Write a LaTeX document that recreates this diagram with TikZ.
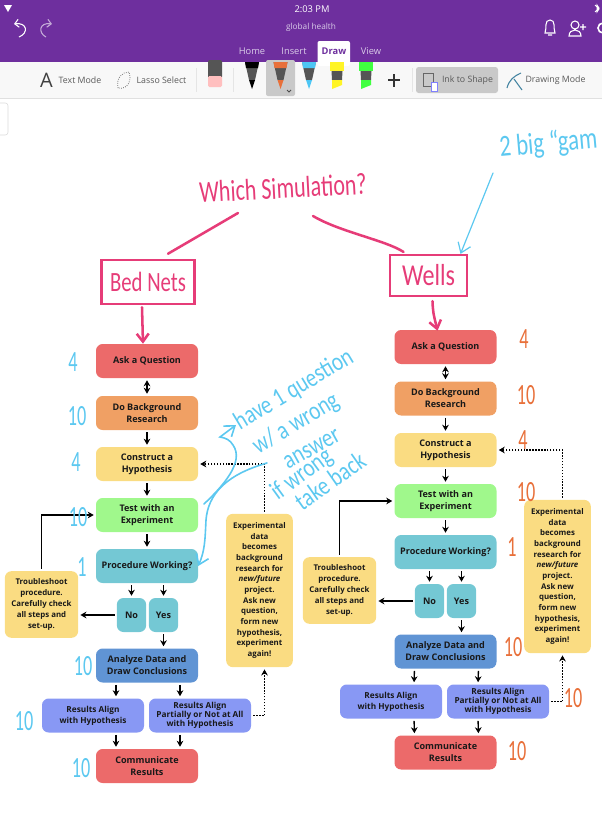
\documentclass[tikz,border=0pt]{standalone}
\usepackage{fontspec}
\setmainfont{Open Sans}
\newfontfamily\handfont{Carlito}
\usetikzlibrary{arrows,arrows.meta,calc}
\definecolor{barpurple}{HTML}{6E2F9E}
\definecolor{tabtext}{HTML}{D9CBE8}
\definecolor{toolbg}{HTML}{F8F8F8}
\definecolor{toolgray}{HTML}{C9C9C9}
\definecolor{penbody}{HTML}{555555}
\definecolor{redbox}{HTML}{EC6A6A}
\definecolor{orangebox}{HTML}{F0A064}
\definecolor{yellowbox}{HTML}{FADC82}
\definecolor{greenbox}{HTML}{A0F88C}
\definecolor{tealbox}{HTML}{74C8D4}
\definecolor{bluebox}{HTML}{6094D4}
\definecolor{violetbox}{HTML}{8898F4}
\definecolor{inkpink}{HTML}{E63C78}
\definecolor{inkblue}{HTML}{5CC8F0}
\definecolor{inkorange}{HTML}{E8703A}

\begin{document}
\begin{tikzpicture}[
    x=0.75pt, y=-0.75pt,
    stepbox/.style={rectangle, rounded corners=5pt, minimum width=76.5pt, minimum height=25.5pt, inner sep=0pt, align=center, text=black!90, font=\fontsize{6.8}{9}\selectfont\bfseries},
    choicebox/.style={stepbox, fill=tealbox, minimum width=22pt},
    sidebox/.style={stepbox, fill=yellowbox, minimum width=55pt, minimum height=50pt, font=\fontsize{5.9}{8.1}\selectfont\bfseries},
    databox/.style={stepbox, fill=yellowbox, minimum width=50pt, minimum height=115pt, font=\fontsize{5.9}{8}\selectfont\bfseries},
    resultbox/.style={stepbox, fill=violetbox, font=\fontsize{6.2}{8.3}\selectfont\bfseries},
    arrow/.style={->, line width=1pt, >={Stealth[length=4.5pt,width=5pt]}, shorten >=1.5pt, shorten <=1.5pt},
    dotarrow/.style={arrow, line width=1.2pt, dash pattern=on 1.1pt off 1.1pt},
    pinkline/.style={draw=inkpink, line width=1.9pt, line cap=round},
    pinkarrow/.style={pinkline, -{Straight Barb[length=6pt,width=9pt]}},
    bluearrow/.style={draw=inkblue, line width=1.2pt, line cap=round, -{Straight Barb[length=7pt,width=10pt]}},
    pinkhand/.style={text=inkpink, font=\handfont\fontsize{19}{19}\selectfont},
    bluehand/.style={text=inkblue, font=\handfont\fontsize{17}{17}\selectfont},
    orangehand/.style={text=inkorange, font=\handfont\fontsize{22}{22}\selectfont},
    simbox/.style={rectangle, draw=inkpink, line width=1.9pt, inner sep=0pt, minimum height=33pt, text=inkpink, font=\handfont\fontsize{19}{19}\selectfont},
    uitext/.style={text=black!65, font=\fontsize{6.6}{8}\selectfont},
    bartext/.style={text=tabtext, font=\fontsize{7}{8}\selectfont}
]
    \useasboundingbox (0,0) rectangle (602,814);
    \clip (0,0) rectangle (602,814);

    % App bar
    \fill[barpurple] (0,0) rectangle (602,62);
    \fill[toolbg] (0,62) rectangle (602,98);
    \draw[black!12] (0,98.5) -- (602,98.5);
    \draw[black!15, rounded corners=2pt] (-4,103) rectangle (8,135);
    \fill[white, rounded corners=1.5pt] (317.5,41) rectangle (350,66);
    \node[bartext, text=white] (clock) at (312,9) {2:03 PM};
    \node[bartext, font=\fontsize{6.2}{8}\selectfont] (notebook) at (311,27) {global health};
    \node[bartext] (hometab) at (252,51) {Home};
    \node[bartext] (inserttab) at (294,51) {Insert};
    \node[bartext, text=barpurple, font=\fontsize{7}{8}\selectfont\bfseries] (drawtab) at (334,51) {Draw};
    \node[bartext] (viewtab) at (371,51) {View};

    % Bar icons
    \draw[white, line width=.8pt, -{Straight Barb[length=3pt,width=6pt]}] (19,37) .. controls (29,33) and (27,22) .. (14,24);
    \draw[white!60!barpurple, line width=.8pt, -{Straight Barb[length=3pt,width=6pt]}] (46,37) .. controls (38,33) and (39,22) .. (52,24);
    \draw[white, line width=.8pt] (545,33) .. controls (547,28) and (544,20) .. (550,20) .. controls (556,20) and (553,28) .. (555,33) -- cycle (548,35) -- (552,35);
    \draw[white, line width=.8pt] (575,25) circle (4) (569,36) .. controls (569,28) and (581,28) .. (581,36) -- cycle (580,27) -- (586,27) (583,24) -- (583,30);
    \draw[white, line width=1.2pt] (603,28) circle (5);
    \fill[white] (4,5) -- (12,5) -- (8,12) -- cycle;
    \draw[white, line width=.7pt] (595,5) -- (599,9) -- (597,12) -- (597,5) -- (599,8) -- (595,12);

    % Tool bar
    \node[uitext, font=\fontsize{15}{16}\selectfont, text=black!75] (texticon) at (46.5,80) {A};
    \node[uitext] (textmode) at (80,80.5) {Text Mode};
    \draw[black!55, densely dotted, line width=.6pt] (118,88) .. controls (116,78) and (122,72) .. (129,72) .. controls (132,80) and (128,90) .. (118,88);
    \node[uitext] (lasso) at (161.5,80.5) {Lasso Select};
    \draw[black!10] (196,68) -- (196,92) (233,68) -- (233,92) (412,68) -- (412,92);
    \fill[penbody, rounded corners=1pt] (208,60) rectangle (222,78);
    \fill[pink, rounded corners=1pt] (208,76) rectangle (222,87);
    \fill[toolgray, rounded corners=1.5pt] (266,60) rectangle (295,96);
    \fill[toolgray, rounded corners=2pt] (416,67) rectangle (498,93);
    \draw[black!70, line width=.7pt] (287,90) -- (289,92) -- (291,90);
    \foreach \x/\c in {252/black, 280.5/inkorange, 309/cyan!70!white} {
        \fill[penbody] (\x-7,62) -- (\x+7,62) -- (\x+3,80) -- (\x-3,80) -- cycle;
        \fill[\c] (\x-7,62) -- (\x+7,62) -- (\x+6,68) -- (\x-6,68) -- cycle;
        \fill[\c] (\x-3,80) -- (\x+3,80) -- (\x,89) -- cycle;
    }
    \foreach \x/\c in {337/yellow!85!white, 366/green!75!white} {
        \fill[penbody] (\x-6,62) -- (\x+6,62) -- (\x+5,80) -- (\x-5,80) -- cycle;
        \fill[\c] (\x-7,62) rectangle (\x+7,71);
        \fill[\c] (\x-5,80) -- (\x+5,80) -- (\x+5,85) -- (\x-5,89) -- cycle;
    }
    \draw[black!80, line width=1.1pt] (388,80) -- (400,80) (394,74) -- (394,87);
    \draw[black!60, line width=.6pt] (423,73) rectangle (433,86);
    \draw[blue!50!white, line width=.7pt, fill=white] (431,82) rectangle (437,91);
    \node[uitext] (inkshape) at (467.5,80.5) {Ink to Shape};
    \draw[cyan!60!black, line width=.8pt] (507,88) .. controls (509,80) and (514,76) .. (521,73) (514,79) -- (522,90);
    \node[uitext] (drawmode) at (555.5,80.5) {Drawing Mode};

    % Bed Nets flow
    \node[stepbox, fill=redbox] (lask) at (147,361) {Ask a Question};
    \node[stepbox, fill=orangebox] (ldo) at (147,413) {Do Background\\Research};
    \node[stepbox, fill=yellowbox] (lguess) at (147,464) {Construct a\\Hypothesis};
    \node[stepbox, fill=greenbox] (ltest) at (147,515) {Test with an\\Experiment};
    \node[stepbox, fill=tealbox] (lproc) at (147,566) {Procedure Working?};
    \node[choicebox] (lno) at (131.5,615) {No};
    \node[choicebox] (lyes) at (163.5,615) {Yes};
    \node[stepbox, fill=bluebox] (lanalyze) at (147,665.5) {Analyze Data and\\Draw Conclusions};
    \node[resultbox] (lalign) at (93,715.5) {Results Align\\with Hypothesis};
    \node[resultbox, font=\fontsize{6.2}{7}\selectfont\bfseries] (lpartial) at (200,715.5) {Results Align\\Partially or Not at All\\with Hypothesis};
    \node[stepbox, fill=redbox] (lcomm) at (147,766) {Communicate\\Results};
    \node[sidebox] (ltrouble) at (41.5,604.5) {Troubleshoot\\procedure.\\Carefully check\\all steps and\\set-up.};
    \node[databox] (ldata) at (259.5,590.5) {Experimental\\data\\becomes\\background\\research for\\\textit{new/future}\\project.\\Ask new\\question,\\form new\\hypothesis,\\experiment\\again!};

    \draw[arrow, <->] (lask) -- (ldo);
    \draw[arrow] (ldo) -- (lguess);
    \draw[arrow] (lguess) -- (ltest);
    \draw[arrow] (ltest) -- (lproc);
    \draw[arrow] (lproc.south -| lno.north) -- (lno.north);
    \draw[arrow] (lproc.south -| lyes.north) -- (lyes.north);
    \draw[arrow] (lyes) -- (lyes |- lanalyze.north);
    \draw[arrow] (lno) -- (ltrouble.east |- lno);
    \draw[arrow] (ltrouble.north) |- (ltest.west);
    \draw[arrow] ($(lanalyze.south)+(-31,0)$) -- ($(lalign.north)+(23,0)$);
    \draw[arrow] ($(lanalyze.south)+(33,0)$) -- ($(lpartial.north)+(-20,0)$);
    \draw[arrow] ($(lalign.south)+(23,0)$) -- ($(lcomm.north)+(-31,0)$);
    \draw[arrow] ($(lpartial.south)+(-20,0)$) -- ($(lcomm.north)+(33,0)$);
    \draw[dotarrow] (lpartial.east) -| ($(ldata.south)+(5,0)$);
    \draw[dotarrow] ($(ldata.north)+(5,0)$) |- (lguess.east);

    % Wells flow
    \node[stepbox, fill=redbox] (rask) at (445.5,347) {Ask a Question};
    \node[stepbox, fill=orangebox] (rdo) at (445.5,398.5) {Do Background\\Research};
    \node[stepbox, fill=yellowbox] (rguess) at (445.5,450) {Construct a\\Hypothesis};
    \node[stepbox, fill=greenbox] (rtest) at (445.5,501) {Test with an\\Experiment};
    \node[stepbox, fill=tealbox] (rproc) at (445.5,552) {Procedure Working?};
    \node[choicebox] (rno) at (429.5,601) {No};
    \node[choicebox] (ryes) at (461.5,601) {Yes};
    \node[stepbox, fill=bluebox] (ranalyze) at (445.5,651.5) {Analyze Data and\\Draw Conclusions};
    \node[resultbox] (ralign) at (391,701.5) {Results Align\\with Hypothesis};
    \node[resultbox, font=\fontsize{6.2}{7}\selectfont\bfseries] (rpartial) at (498,701.5) {Results Align\\Partially or Not at All\\with Hypothesis};
    \node[stepbox, fill=redbox] (rcomm) at (445.5,752.5) {Communicate\\Results};
    \node[sidebox] (rtrouble) at (339.5,590.5) {Troubleshoot\\procedure.\\Carefully check\\all steps and\\set-up.};
    \node[databox] (rdata) at (557.5,576.5) {Experimental\\data\\becomes\\background\\research for\\\textit{new/future}\\project.\\Ask new\\question,\\form new\\hypothesis,\\experiment\\again!};

    \draw[arrow, <->] (rask) -- (rdo);
    \draw[arrow] (rdo) -- (rguess);
    \draw[arrow] (rguess) -- (rtest);
    \draw[arrow] (rtest) -- (rproc);
    \draw[arrow] (rproc.south -| rno.north) -- (rno.north);
    \draw[arrow] (rproc.south -| ryes.north) -- (ryes.north);
    \draw[arrow] (ryes) -- (ryes |- ranalyze.north);
    \draw[arrow] (rno) -- (rtrouble.east |- rno);
    \draw[arrow] (rtrouble.north) |- (rtest.west);
    \draw[arrow] ($(ranalyze.south)+(-31,0)$) -- ($(ralign.north)+(23,0)$);
    \draw[arrow] ($(ranalyze.south)+(33,0)$) -- ($(rpartial.north)+(-20,0)$);
    \draw[arrow] ($(ralign.south)+(23,0)$) -- ($(rcomm.north)+(-31,0)$);
    \draw[arrow] ($(rpartial.south)+(-20,0)$) -- ($(rcomm.north)+(33,0)$);
    \draw[dotarrow] (rpartial.east) -| ($(rdata.south)+(5,0)$);
    \draw[dotarrow] ($(rdata.north)+(5,0)$) |- (rguess.east);

    % Pink ink
    \node[pinkhand, rotate=3] (which) at (283,188) {\scalebox{.87}[1.2]{Which Simulation?}};
    \node[simbox, minimum width=70pt] (bednets) at (148,282) {\scalebox{.82}[1.1]{Bed Nets}};
    \node[simbox, minimum width=57.5pt, minimum height=30.5pt] (wells) at (428.5,275.5) {\scalebox{.95}[1.2]{Wells}};
    \coordinate (whichleft) at (238,213);
    \coordinate (whichright) at (313,216);
    \draw[pinkline] (whichleft) -- ($(bednets.north)+(20,-5)$);
    \draw[pinkline] (whichright) .. controls (340,232) and (385,240) .. ($(wells.north)+(-25,-2)$);
    \draw[pinkarrow] ($(bednets.south)+(-6,2)$) -- ($(lask.north)+(-4,0)$);
    \draw[pinkarrow] ($(wells.south)+(4,4)$) .. controls (433,312) .. ($(rask.north)+(-8,1)$);

    % Blue ink
    \node[bluehand, rotate=5, anchor=west, font=\handfont\fontsize{19}{19}\selectfont] (games) at (495,149) {\scalebox{.9}[1.2]{2 big “gam}};
    \coordinate (gamesfoot) at (493,173);
    \draw[bluearrow, line width=.9pt] (gamesfoot) -- ($(wells.north)+(32,0)$);
    \node[bluehand, rotate=31] (noteone) at (294,390) {\scalebox{.92}[1.15]{have 1 question}};
    \node[bluehand, rotate=31] (notetwo) at (296,424) {\scalebox{.92}[1.15]{w/ a wrong}};
    \node[bluehand, rotate=29] (notethree) at (312,449) {\scalebox{.92}[1.15]{answer}};
    \node[bluehand, rotate=36] (notefour) at (302,475) {\scalebox{.92}[1.15]{if wrong}};
    \node[bluehand, rotate=35] (notefive) at (330,481) {\scalebox{.92}[1.15]{take back}};
    \coordinate (curlstart) at (204,504);
    \coordinate (curlend) at (236,425);
    \coordinate (backstart) at (267,463);
    \draw[bluearrow] (curlstart) .. controls (222,487) and (245,462) .. (233,445) .. controls (230,440) and (226,438) .. (220,437) -- (curlend);
    \draw[bluearrow] (backstart) .. controls (225,475) and (208,495) .. (206,520) .. controls (205,540) and (205,550) .. (lproc.east);

    % Blue scores
    \foreach \x/\y/\t [count=\i] in {73/362/4, 77/416/10, 76/462/4, 78/517/10, 82/567/1, 83/666/10, 24/721/10, 81/768/10} {
        \node[bluehand, font=\handfont\fontsize{22}{22}\selectfont] (lscore\i) at (\x,\y) {\scalebox{.62}[1]{\t}};
    }
    % Orange scores
    \foreach \x/\y/\t [count=\i] in {524/339/4, 526/395/10, 523/440/4, 526/492/10, 512/547/1, 513/647/10, 573/698/10, 517/751/10} {
        \node[orangehand] (rscore\i) at (\x,\y) {\scalebox{.62}[1]{\t}};
    }
\end{tikzpicture}
\end{document}
